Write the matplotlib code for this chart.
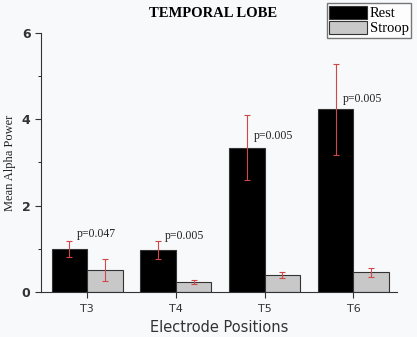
import numpy as np
import matplotlib
matplotlib.use("Agg")
import matplotlib.pyplot as plt
from matplotlib.ticker import MultipleLocator

# data
electrodes = ["T3", "T4", "T5", "T6"]
rest = [1.00, 0.98, 3.34, 4.23]
rest_err = [0.19, 0.21, 0.75, 1.05]
stroop = [0.50, 0.23, 0.38, 0.45]
stroop_err = [0.25, 0.04, 0.07, 0.10]
p_labels = ["p=0.047", "p=0.005", "p=0.005", "p=0.005"]
p_heights = [1.35, 1.30, 3.62, 4.47]

bg = "#f8f9fb"
fig = plt.figure(figsize=(4.17, 3.37), dpi=100, facecolor=bg)
ax = fig.add_axes([0.098, 0.134, 0.854, 0.768], facecolor=bg)

x = np.arange(len(electrodes))
w = 0.4
ecol = "#d04848"
ax.bar(x - w / 2, rest, w, color="black", edgecolor="#333333", linewidth=0.8,
       label="Rest")
ax.bar(x + w / 2, stroop, w, color="#c8c8c8", edgecolor="#333333", linewidth=0.8,
       label="Stroop")
ax.errorbar(x - w / 2, rest, yerr=rest_err, fmt="none", ecolor=ecol,
            elinewidth=0.8, capsize=2.5, capthick=0.8, zorder=5)
ax.errorbar(x + w / 2, stroop, yerr=stroop_err, fmt="none", ecolor=ecol,
            elinewidth=0.8, capsize=2.5, capthick=0.8, zorder=5)

for xi, lab, h in zip(x, p_labels, p_heights):
    ax.text(xi - 0.12, h, lab, family="Liberation Serif", fontsize=8.5,
            ha="left", va="center", color="#222222")

ax.set_xlim(-0.52, 3.49)
ax.set_ylim(0, 6)
ax.set_xticks(x)
ax.set_xticklabels(electrodes, fontsize=8, color="#333333")
ax.yaxis.set_major_locator(MultipleLocator(2))
ax.yaxis.set_minor_locator(MultipleLocator(1))
ax.tick_params(axis="y", labelsize=9, colors="#333333", direction="out", length=4)
ax.tick_params(axis="y", which="minor", length=2)
ax.tick_params(axis="x", direction="out", length=4, colors="#333333", pad=5)
for lbl in ax.get_yticklabels():
    lbl.set_fontweight("bold")
for s in ["top", "right"]:
    ax.spines[s].set_visible(False)
ax.spines["left"].set_color("#333333")
ax.spines["bottom"].set_color("#333333")

ax.set_xlabel("Electrode Positions", fontsize=10.5, color="#333333", labelpad=4)
ax.set_ylabel("Mean Alpha Power", family="Liberation Serif", fontsize=9,
              color="#222222", labelpad=4)
fig.text(0.512, 0.96, "TEMPORAL LOBE", family="Liberation Serif", fontsize=10.5,
         fontweight="bold", ha="center", va="center")

leg = fig.legend(loc="upper right", bbox_to_anchor=(0.986, 0.99),
                 prop={"family": "Liberation Serif", "size": 10.5},
                 frameon=True, fancybox=False, edgecolor="#555555",
                 handlelength=2.6, handleheight=1.0, handletextpad=0.2,
                 borderpad=0.15, labelspacing=0.05, borderaxespad=0)
leg.get_frame().set_linewidth(1.0)

fig.savefig("out.png", dpi=100, facecolor=bg)
